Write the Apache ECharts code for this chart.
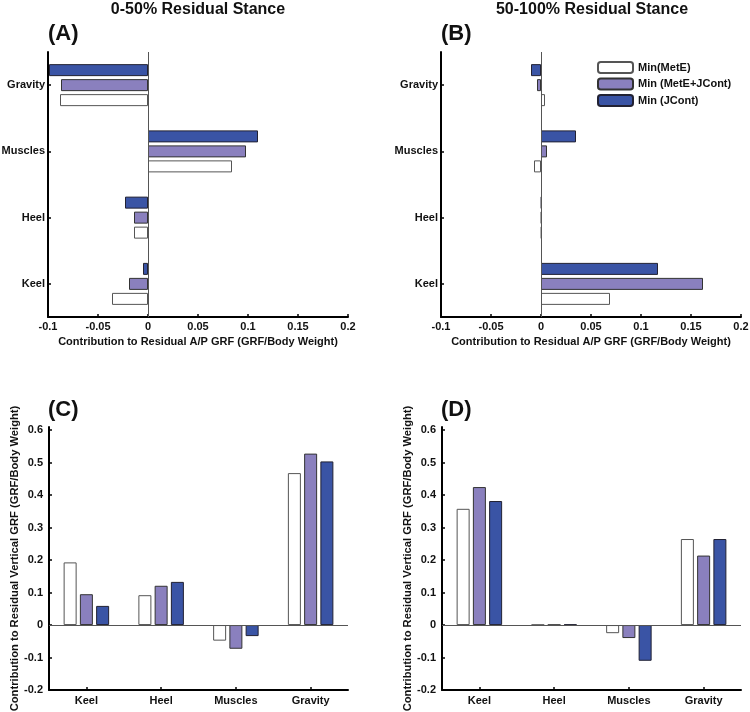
<!DOCTYPE html>
<html><head><meta charset="utf-8">
<script src="https://cdn.jsdelivr.net/npm/echarts@6/dist/echarts.min.js"></script>
<style>html,body{margin:0;padding:0;background:#fff}#c{width:750px;height:712px}</style>
</head><body><div id="c"></div>
<script>
// Categories
const catsAP = ['Keel', 'Heel', 'Muscles', 'Gravity'];   // y axis, bottom to top
const catsV = ['Keel', 'Heel', 'Muscles', 'Gravity'];
const seriesNames = ['Min(MetE)', 'Min (MetE+JCont)', 'Min (JCont)'];
// Panel A: 0-50% A/P
const aMetE = [-0.036, -0.014, 0.084, -0.088];
const aMetEJ = [-0.019, -0.014, 0.098, -0.087];
const aJCont = [-0.005, -0.023, 0.110, -0.099];
// Panel B: 50-100% A/P
const bMetE = [0.069, 0.0005, -0.007, 0.004];
const bMetEJ = [0.162, 0.0005, 0.006, -0.004];
const bJCont = [0.117, 0.0005, 0.035, -0.010];
// Panel C: 0-50% vertical
const cMetE = [0.193, 0.092, -0.048, 0.468];
const cMetEJ = [0.095, 0.121, -0.073, 0.528];
const cJCont = [0.059, 0.133, -0.034, 0.504];
// Panel D: 50-100% vertical
const dMetE = [0.358, 0.001, -0.025, 0.265];
const dMetEJ = [0.425, 0.001, -0.040, 0.214];
const dJCont = [0.382, 0.002, -0.110, 0.265];

const FONT = 'Liberation Sans, Arial, Helvetica, sans-serif';
const colors = ['#ffffff', '#8a80be', '#3a54a5'];
const borders = ['#555555', '#333333', '#222233'];
const lab = {fontFamily: FONT, fontWeight: 'bold', fontSize: 11, color: '#111'};

const chart = echarts.init(document.getElementById('c'), null, {renderer: 'canvas'});

function valAxisAP(gi) {
  return {type: 'value', gridIndex: gi, min: -0.1, max: 0.2, interval: 0.05,
    axisLine: {show: true, onZero: false, lineStyle: {color: '#000', width: 2}},
    axisTick: {show: true, inside: true, length: 3, lineStyle: {color: '#000', width: 1.5}},
    axisLabel: Object.assign({margin: 4}, lab),
    splitLine: {show: false},
    name: 'Contribution to Residual A/P GRF (GRF/Body Weight)', nameLocation: 'middle', nameGap: 19,
    nameTextStyle: lab};
}
function catAxisAP(gi) {
  return {type: 'category', gridIndex: gi, data: catsAP,
    axisLine: {show: true, onZero: false, lineStyle: {color: '#000', width: 2}},
    axisTick: {show: true, inside: true, alignWithLabel: true, length: 3, lineStyle: {color: '#000', width: 1.5}},
    axisLabel: Object.assign({margin: 3}, lab), splitLine: {show: false}};
}
function catAxisV(gi) {
  return {type: 'category', gridIndex: gi, data: catsV,
    axisLine: {show: true, onZero: false, lineStyle: {color: '#000', width: 2}},
    axisTick: {show: true, inside: true, alignWithLabel: true, length: 3, lineStyle: {color: '#000', width: 1.5}},
    axisLabel: Object.assign({margin: 5}, lab), splitLine: {show: false}};
}
function valAxisV(gi) {
  return {type: 'value', gridIndex: gi, min: -0.2, max: 0.61, interval: 0.1,
    axisLine: {show: true, onZero: false, lineStyle: {color: '#000', width: 2}},
    axisTick: {show: true, inside: true, length: 3, lineStyle: {color: '#000', width: 1.5}},
    axisLabel: Object.assign({margin: 6, showMaxLabel: false,
      formatter: function (v) { return v > 0.605 ? '' : String(Math.round(v * 10) / 10); }}, lab),
    splitLine: {show: false},
    name: 'Contribution to Residual Vertical GRF (GRF/Body Weight)', nameLocation: 'middle', nameGap: 28,
    nameTextStyle: Object.assign({}, lab, {fontSize: 11.2})};
}

const zeroLineX = {silent: true, symbol: 'none', label: {show: false},
  lineStyle: {color: '#555', width: 1, type: 'solid'}, data: [{xAxis: 0}]};
const zeroLineY = {silent: true, symbol: 'none', label: {show: false},
  lineStyle: {color: '#555', width: 1, type: 'solid'}, data: [{yAxis: 0}]};

// idx: indices into seriesNames/colors for each data array, in stacking order
function makeSeries(arrs, idx, gi, horizontal, bw) {
  return arrs.map(function (d, k) {
    const i = idx[k];
    const s = {type: 'bar', name: seriesNames[i], data: d,
      xAxisIndex: gi, yAxisIndex: gi, barWidth: bw, barGap: '25%',
      itemStyle: {color: colors[i], borderColor: borders[i], borderWidth: 1},
      emphasis: {disabled: true}, animation: false};
    if (k === 0) s.markLine = horizontal ? zeroLineX : zeroLineY;
    return s;
  });
}

const titleStyle = {fontFamily: FONT, fontWeight: 'bold', fontSize: 16, color: '#111'};
const panelStyle = {fontFamily: FONT, fontWeight: 'bold', fontSize: 22, color: '#111'};

const gridBase = {containLabel: false, outerBoundsMode: 'none'};

chart.setOption({
  animation: false,
  title: [
    {text: '0-50% Residual Stance', left: 198, top: 2, textAlign: 'center', textStyle: titleStyle, padding: 0},
    {text: '50-100% Residual Stance', left: 592, top: 2, textAlign: 'center', textStyle: titleStyle, padding: 0},
    {text: '(A)', left: 48, top: 23, textStyle: panelStyle, padding: 0},
    {text: '(B)', left: 441, top: 23, textStyle: panelStyle, padding: 0},
    {text: '(C)', left: 48, top: 399, textStyle: panelStyle, padding: 0},
    {text: '(D)', left: 441, top: 399, textStyle: panelStyle, padding: 0}
  ],
  legend: {data: seriesNames, orient: 'vertical', left: 597, top: 61, itemWidth: 35, itemHeight: 11,
    itemGap: 3.5, padding: 0, textStyle: lab, selectedMode: false},
  grid: [
    Object.assign({left: 48, right: 402, top: 52, bottom: 395}, gridBase),
    Object.assign({left: 441, right: 9, top: 52, bottom: 395}, gridBase),
    Object.assign({left: 49, right: 402, top: 427, bottom: 22}, gridBase),
    Object.assign({left: 442, right: 9, top: 427, bottom: 22}, gridBase)
  ],
  xAxis: [valAxisAP(0), valAxisAP(1), catAxisV(2), catAxisV(3)],
  yAxis: [catAxisAP(0), catAxisAP(1), valAxisV(2), valAxisV(3)],
  series: [].concat(
    makeSeries([aJCont, aMetEJ, aMetE], [2, 1, 0], 0, true, 12),
    makeSeries([bJCont, bMetEJ, bMetE], [2, 1, 0], 1, true, 12),
    makeSeries([cMetE, cMetEJ, cJCont], [0, 1, 2], 2, false, 13),
    makeSeries([dMetE, dMetEJ, dJCont], [0, 1, 2], 3, false, 13)
  )
});
</script></body></html>
